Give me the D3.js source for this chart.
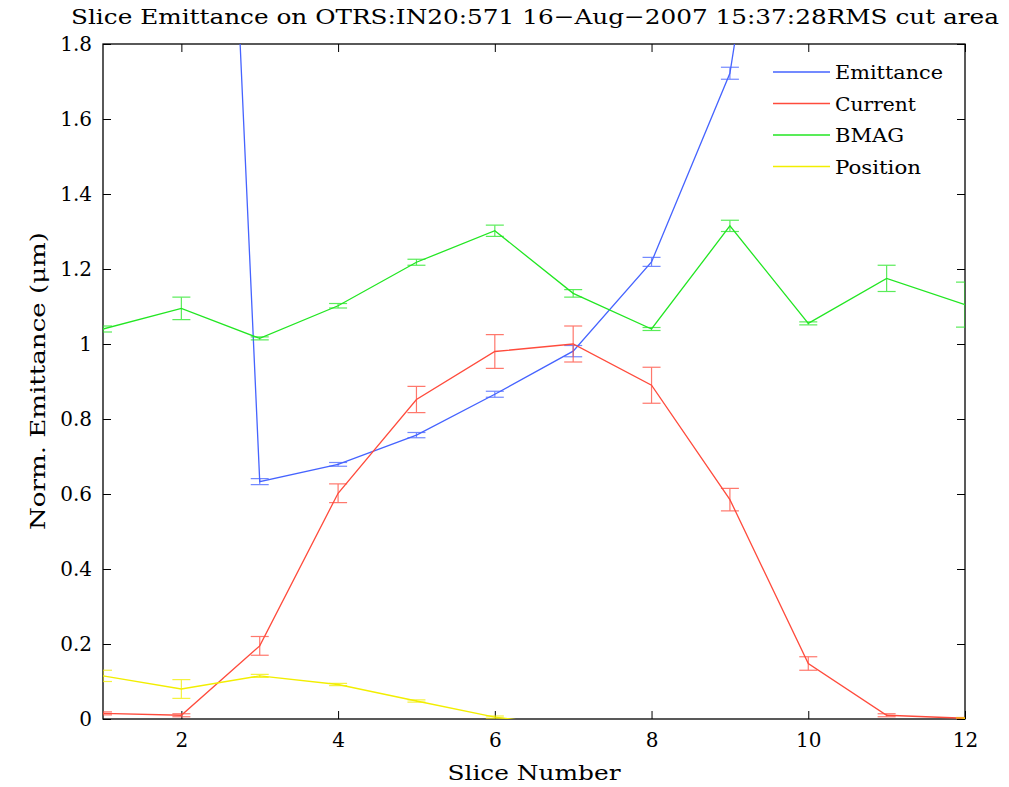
<!DOCTYPE html>
<html>
<head>
<meta charset="utf-8">
<script src="https://cdn.jsdelivr.net/npm/d3@7"></script>
<style>
  body { margin: 0; background: #fff; }
</style>
</head>
<body>
<svg id="chart" width="1009" height="787"></svg>
<script>
// Slice numbers along the bunch
const slices = [1, 2, 3, 4, 5, 6, 7, 8, 9, 10, 11, 12];

// Normalized emittance per slice (null = not measured); slices 2 and 10 leave the axes range
const emittance    = [null, 5.3, 0.633, 0.679, 0.757, 0.866, 0.981, 1.219, 1.722, 3.05, null, null];
const emittanceErr = [null, 0.01, 0.008, 0.005, 0.007, 0.008, 0.015, 0.012, 0.016, 0.02, null, null];

const current    = [0.015, 0.010, 0.195, 0.602, 0.852, 0.980, 1.000, 0.890, 0.585, 0.148, 0.010, 0.002];
const currentErr = [0.004, 0.004, 0.025, 0.025, 0.035, 0.045, 0.048, 0.048, 0.030, 0.018, 0.004, 0.002];

const bmag    = [1.040, 1.095, 1.015, 1.102, 1.218, 1.302, 1.135, 1.040, 1.315, 1.055, 1.175, 1.105];
const bmagErr = [0.008, 0.030, 0.004, 0.006, 0.008, 0.015, 0.010, 0.004, 0.015, 0.004, 0.035, 0.060];

const position    = [0.115, 0.080, 0.115, 0.092, 0.048, 0.005, -0.02, -0.05, -0.08, -0.06, -0.03, 0.0];
const positionErr = [0.015, 0.025, 0.004, 0.003, 0.003, 0.003, 0.003, 0.003, 0.003, 0.003, 0.003, 0.003];

const xTicks = [2, 4, 6, 8, 10, 12];
const yTicks = [0, 0.2, 0.4, 0.6, 0.8, 1, 1.2, 1.4, 1.6, 1.8];

const seriesNames = ["Emittance", "Current", "BMAG", "Position"];
const seriesColors = ["#4563ff", "#ff4b3c", "#22e622", "#f2ee00"];
const seriesValues = [emittance, current, bmag, position];
const seriesErrors = [emittanceErr, currentErr, bmagErr, positionErr];

const FONT = "'DejaVu Serif', serif";

const margin = { left: 103, right: 44, top: 44, bottom: 68 };
const W = 1009, H = 787;
const innerW = W - margin.left - margin.right;
const innerH = H - margin.top - margin.bottom;

const svg = d3.select("#chart");

const x = d3.scaleLinear().domain([1, 12]).range([0, innerW]);
const y = d3.scaleLinear().domain([0, 1.8]).range([innerH, 0]);

svg.append("defs").append("clipPath").attr("id", "plotClip")
  .append("rect").attr("x", 0).attr("y", 0).attr("width", innerW).attr("height", innerH);

const g = svg.append("g").attr("transform", `translate(${margin.left},${margin.top})`);

// Axes with inward ticks on all four sides
const fmt = d => String(d);
const axisStyle = sel => {
  sel.selectAll(".domain").remove();
  sel.selectAll("line").attr("stroke", "#000").attr("stroke-width", 1);
  sel.selectAll("text").attr("fill", "#000")
    .style("font-family", FONT).style("font-size", "20px");
};
g.append("g").attr("transform", `translate(0,${innerH})`)
  .call(d3.axisBottom(x).tickValues(xTicks).tickFormat(fmt).tickSizeInner(-8).tickSizeOuter(0).tickPadding(14))
  .call(axisStyle);
g.append("g")
  .call(d3.axisTop(x).tickValues(xTicks).tickFormat("").tickSizeInner(-8).tickSizeOuter(0))
  .call(axisStyle);
g.append("g")
  .call(d3.axisLeft(y).tickValues(yTicks).tickFormat(fmt).tickSizeInner(-8).tickSizeOuter(0).tickPadding(11))
  .call(axisStyle);
g.append("g").attr("transform", `translate(${innerW},0)`)
  .call(d3.axisRight(y).tickValues(yTicks).tickFormat("").tickSizeInner(-8).tickSizeOuter(0))
  .call(axisStyle);

g.append("rect").attr("x", 0).attr("y", 0).attr("width", innerW).attr("height", innerH)
  .attr("fill", "none").attr("stroke", "#000").attr("stroke-width", 1.3);

// Data series: error bars plus connecting line
const plot = g.append("g").attr("clip-path", "url(#plotClip)");
const capHalf = 9;

seriesValues.forEach((vals, si) => {
  const color = seriesColors[si];
  const errs = seriesErrors[si];
  const pts = slices.map((s, i) => ({ s, v: vals[i], e: errs[i] })).filter(p => p.v !== null);

  const eb = plot.append("g").attr("stroke", color).attr("stroke-width", 1.2).attr("opacity", 0.75);
  pts.forEach(p => {
    const cx = x(p.s), y0 = y(p.v - p.e), y1 = y(p.v + p.e);
    eb.append("line").attr("x1", cx).attr("x2", cx).attr("y1", y0).attr("y2", y1);
    eb.append("line").attr("x1", cx - capHalf).attr("x2", cx + capHalf).attr("y1", y0).attr("y2", y0);
    eb.append("line").attr("x1", cx - capHalf).attr("x2", cx + capHalf).attr("y1", y1).attr("y2", y1);
  });

  const line = d3.line().x(p => x(p.s)).y(p => y(p.v));
  plot.append("path").datum(pts).attr("d", line)
    .attr("fill", "none").attr("stroke", color).attr("stroke-width", 1.3);
});

// Legend
const legendWidths = [108, 81, 69, 86];
const legend = svg.append("g").attr("transform", "translate(773,72)");
seriesNames.forEach((name, i) => {
  const row = legend.append("g").attr("transform", `translate(0,${i * 31.5})`);
  row.append("line").attr("x1", 0).attr("x2", 57).attr("y1", 0).attr("y2", 0)
    .attr("stroke", seriesColors[i]).attr("stroke-width", 1.5);
  row.append("text").attr("x", 62).attr("y", 7)
    .style("font-family", FONT).style("font-size", "19px")
    .attr("textLength", legendWidths[i]).attr("lengthAdjust", "spacingAndGlyphs")
    .text(name);
});

// Titles
svg.append("text").attr("x", 535).attr("y", 24).attr("text-anchor", "middle")
  .style("font-family", FONT).style("font-size", "21px")
  .attr("textLength", 928).attr("lengthAdjust", "spacingAndGlyphs")
  .text("Slice Emittance on OTRS:IN20:571  16\u2212Aug\u22122007 15:37:28RMS cut area");

svg.append("text").attr("x", margin.left + innerW / 2).attr("y", 780).attr("text-anchor", "middle")
  .style("font-family", FONT).style("font-size", "21px")
  .attr("textLength", 173).attr("lengthAdjust", "spacingAndGlyphs")
  .text("Slice Number");

svg.append("text")
  .attr("transform", "translate(45,381) rotate(-90)")
  .attr("text-anchor", "middle")
  .style("font-family", FONT).style("font-size", "21px")
  .attr("textLength", 298).attr("lengthAdjust", "spacingAndGlyphs")
  .text("Norm. Emittance\u00a0(\u03bcm)");
</script>
</body>
</html>
